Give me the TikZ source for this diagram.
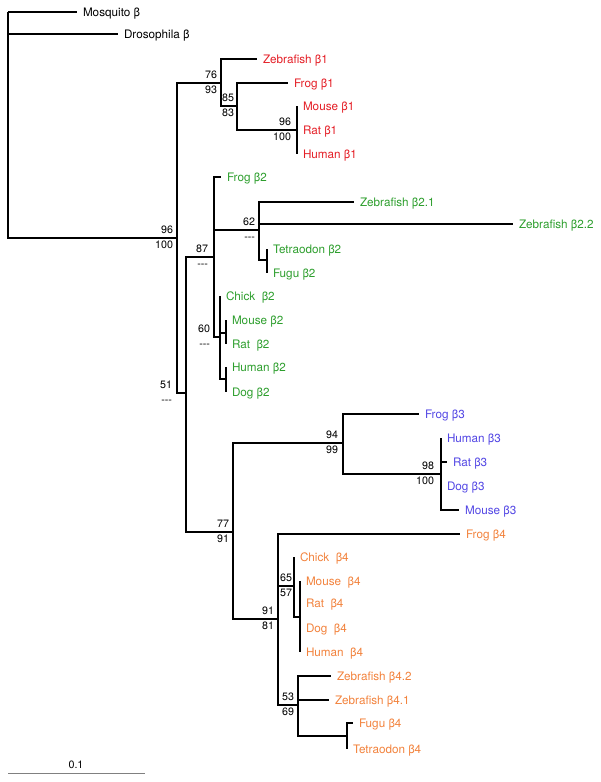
\documentclass[tikz,border=0pt]{standalone}
\usepackage{fontspec}
\setmainfont{TeX Gyre Heros}
\usepackage{tikz}

\definecolor{betaone}{RGB}{228,30,38}
\definecolor{betatwo}{RGB}{45,158,45}
\definecolor{betathree}{RGB}{82,70,228}
\definecolor{betafour}{RGB}{242,130,60}

\begin{document}
\begin{tikzpicture}[x=1pt,y=-1pt,line width=2pt,
  leaf/.style={anchor=west,inner xsep=5pt,inner ysep=0pt,text height=8.4pt,
    text depth=0pt,font=\fontsize{11.7}{13}\selectfont},
  bup/.style={anchor=south east,inner xsep=0pt,inner ysep=3.8pt,text height=7.7pt,
    text depth=0pt,font=\fontsize{10.7}{12}\selectfont},
  bdown/.style={anchor=north east,inner xsep=0pt,inner ysep=2.2pt,text height=7.7pt,
    text depth=0pt,font=\fontsize{10.7}{12}\selectfont},
  branch/.style={draw,to path={|- (\tikztotarget)}}]

  \useasboundingbox (0,0) rectangle (600,782);

  % internal nodes
  \coordinate (root) at (8,12);
  \coordinate (n96)  at (177,238);
  \coordinate (n76)  at (221,83);
  \coordinate (n85)  at (237,106);
  \coordinate (n96r) at (297,130);
  \coordinate (n51)  at (186,393);
  \coordinate (n87)  at (214,257);
  \coordinate (n62)  at (259,230);
  \coordinate (ntf2) at (267,260);
  \coordinate (n60)  at (220,337);
  \coordinate (nmr2) at (226,333);
  \coordinate (nhd2) at (226,379);
  \coordinate (n77)  at (233,532);
  \coordinate (n94)  at (343,443);
  \coordinate (n98)  at (441,474);
  \coordinate (n91)  at (278,619);
  \coordinate (n65)  at (294,586);
  \coordinate (nm4)  at (300,617);
  \coordinate (n53)  at (298,705);
  \coordinate (nft4) at (347,736);

  % leaves
  \node[leaf] (mosq) at (77,12)  {Mosquito β};
  \node[leaf] (dros) at (118,34) {Drosophila β};

  \node[leaf,betaone] (zf1)    at (257,59)  {Zebrafish β1};
  \node[leaf,betaone] (frog1)  at (288,83)  {Frog β1};
  \node[leaf,betaone] (mouse1) at (297,106) {Mouse β1};
  \node[leaf,betaone] (rat1)   at (297,130) {Rat β1};
  \node[leaf,betaone] (human1) at (297,154) {Human β1};

  \node[leaf,betatwo] (frog2)  at (221,177) {Frog β2};
  \node[leaf,betatwo] (zf21)   at (354,202) {Zebrafish β2.1};
  \node[leaf,betatwo] (zf22)   at (513,224) {Zebrafish β2.2};
  \node[leaf,betatwo] (tetra2) at (267,249) {Tetraodon β2};
  \node[leaf,betatwo] (fugu2)  at (267,273) {Fugu β2};
  \node[leaf,betatwo] (chick2) at (220,296) {Chick \ β2};
  \node[leaf,betatwo] (mouse2) at (226,320) {Mouse β2};
  \node[leaf,betatwo] (rat2)   at (226,344) {Rat \ β2};
  \node[leaf,betatwo] (human2) at (226,367) {Human β2};
  \node[leaf,betatwo] (dog2)   at (226,392) {Dog β2};

  \node[leaf,betathree] (frog3)  at (419,414) {Frog β3};
  \node[leaf,betathree] (human3) at (441,438) {Human β3};
  \node[leaf,betathree] (rat3)   at (447,462) {Rat β3};
  \node[leaf,betathree] (dog3)   at (441,486) {Dog β3};
  \node[leaf,betathree] (mouse3) at (459,510) {Mouse β3};

  \node[leaf,betafour] (frog4)  at (460,534) {Frog β4};
  \node[leaf,betafour] (chick4) at (294,557) {Chick \ β4};
  \node[leaf,betafour] (mouse4) at (300,581) {Mouse \ β4};
  \node[leaf,betafour] (rat4)   at (300,603) {Rat \ β4};
  \node[leaf,betafour] (dog4)   at (300,628) {Dog \ β4};
  \node[leaf,betafour] (human4) at (300,652) {Human \ β4};
  \node[leaf,betafour] (zf42)   at (331,676) {Zebrafish β4.2};
  \node[leaf,betafour] (zf41)   at (329,700) {Zebrafish β4.1};
  \node[leaf,betafour] (fugu4)  at (353,723) {Fugu β4};
  \node[leaf,betafour] (tetra4) at (347,749) {Tetraodon β4};

  % support values
  \node[bup]   (b96a) at ([xshift=-3pt]n96)  {96};
  \node[bdown] (b96b) at ([xshift=-3pt]n96)  {100};
  \node[bup]   (b76a) at ([xshift=-3pt]n76)  {76};
  \node[bdown] (b76b) at ([xshift=-3pt]n76)  {93};
  \node[bup]   (b85a) at ([xshift=-2pt]n85)  {85};
  \node[bdown] (b85b) at ([xshift=-2pt]n85)  {83};
  \node[bup]   (b9ra) at ([xshift=-5pt]n96r) {96};
  \node[bdown] (b9rb) at ([xshift=-5pt]n96r) {100};
  \node[bup]   (b51a) at ([xshift=-13pt]n51) {51};
  \node[bdown] (b51b) at ([xshift=-13pt]n51) {-{}-{}-};
  \node[bup]   (b87a) at ([xshift=-5pt]n87)  {87};
  \node[bdown] (b87b) at ([xshift=-5pt]n87)  {-{}-{}-};
  \node[bup]   (b62a) at ([xshift=-3pt]n62)  {62};
  \node[bdown] (b62b) at ([xshift=-3pt]n62)  {-{}-{}-};
  \node[bup]   (b60a) at ([xshift=-9pt]n60)  {60};
  \node[bdown] (b60b) at ([xshift=-9pt]n60)  {-{}-{}-};
  \node[bup]   (b77a) at ([xshift=-3pt]n77)  {77};
  \node[bdown] (b77b) at ([xshift=-3pt]n77)  {91};
  \node[bup]   (b94a) at ([xshift=-4pt]n94)  {94};
  \node[bdown] (b94b) at ([xshift=-4pt]n94)  {99};
  \node[bup]   (b98a) at ([xshift=-6pt]n98)  {98};
  \node[bdown] (b98b) at ([xshift=-6pt]n98)  {100};
  \node[bup]   (b91a) at ([xshift=-3pt]n91)  {91};
  \node[bdown] (b91b) at ([xshift=-3pt]n91)  {81};
  \node[bup]   (b65a) at ([xshift=-1pt]n65)  {65};
  \node[bdown] (b65b) at ([xshift=-1pt]n65)  {57};
  \node[bup]   (b53a) at ([xshift=-3pt]n53)  {53};
  \node[bdown] (b53b) at ([xshift=-3pt]n53)  {69};

  % branches
  \path[every edge/.style={branch}]
    (root) edge (mosq.west)
    (root) edge (dros.west)
    (root) edge (n96)
    (n96) edge (n76)
    (n96) edge (n51)
    (n76) edge (zf1.west)
    (n76) edge (n85)
    (n85) edge (frog1.west)
    (n85) edge (n96r)
    (n96r) edge (mouse1.west)
    (n96r) edge (rat1.west)
    (n96r) edge (human1.west)
    (n51) edge (n87)
    (n51) edge (n77)
    (n87) edge (frog2.west)
    (n87) edge (n62)
    (n87) edge (n60)
    (n62) edge (zf21.west)
    (n62) edge (zf22.west)
    (n62) edge (ntf2)
    (ntf2) edge (tetra2.west)
    (ntf2) edge (fugu2.west)
    (n60) edge (chick2.west)
    (n60) edge (nmr2)
    (n60) edge (nhd2)
    (nmr2) edge (mouse2.west)
    (nmr2) edge (rat2.west)
    (nhd2) edge (human2.west)
    (nhd2) edge (dog2.west)
    (n77) edge (n94)
    (n77) edge (n91)
    (n94) edge (frog3.west)
    (n94) edge (n98)
    (n98) edge (human3.west)
    (n98) edge (rat3.west)
    (n98) edge (dog3.west)
    (n98) edge (mouse3.west)
    (n91) edge (frog4.west)
    (n91) edge (n65)
    (n91) edge (n53)
    (n65) edge (chick4.west)
    (n65) edge (nm4)
    (nm4) edge (mouse4.west)
    (nm4) edge (rat4.west)
    (nm4) edge (dog4.west)
    (nm4) edge (human4.west)
    (n53) edge (zf42.west)
    (n53) edge (zf41.west)
    (n53) edge (nft4)
    (nft4) edge (fugu4.west)
    (nft4) edge (tetra4.west);

  % scale bar
  \coordinate (sbl) at (8,773);
  \coordinate (sbr) at (145,773);
  \draw[gray,line width=1pt] (sbl) -- (sbr);
  \node[font=\fontsize{10.7}{12}\selectfont,inner sep=0pt] (sblabel) at (76,764.5) {0.1};
\end{tikzpicture}
\end{document}
